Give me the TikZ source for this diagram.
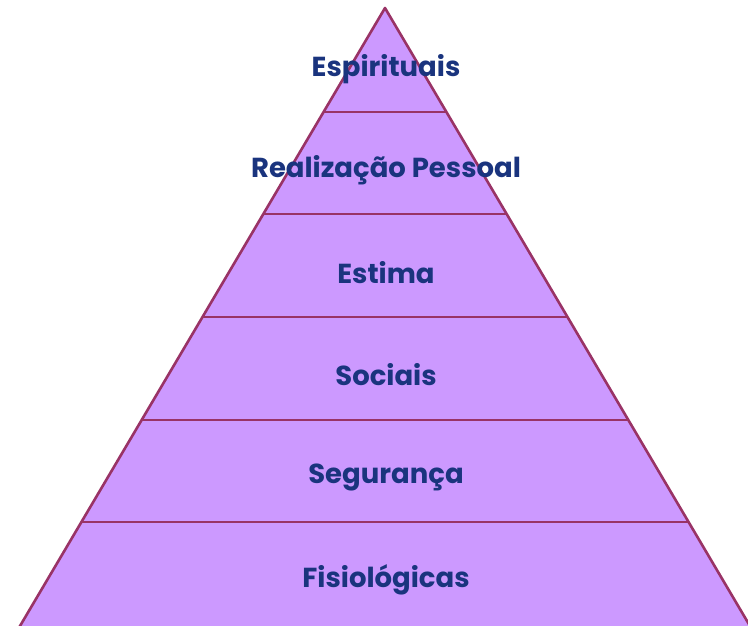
\documentclass[tikz,border=0pt]{standalone}
\usepackage{fontspec}
\setmainfont{Poppins}
\usetikzlibrary{calc}
\definecolor{layerfill}{HTML}{CC99FF}
\definecolor{layerline}{HTML}{993366}
\definecolor{labeltext}{HTML}{1A347E}
\begin{document}
\begin{tikzpicture}[
    x=1pt,
    y=-1pt,
    edge/.style={draw=layerline, line width=2.6pt, line join=round},
    lbl/.style={text=labeltext, font=\fontsize{27.5}{30}\selectfont\bfseries, anchor=center},
]
    \useasboundingbox (0, 0) rectangle (748, 626);
    \coordinate (apex) at (385, 8);
    \coordinate (bl) at (20, 626);
    \coordinate (br) at (750, 626);

    \fill[layerfill] (apex) -- ($(apex)!1.01!(bl)$) -- ($(apex)!1.01!(br)$) -- cycle;
    \path[edge] ($(apex)!1.01!(bl)$) -- (apex) -- ($(apex)!1.01!(br)$);

    \coordinate (l1) at ($(apex)!0.1683!(bl)$);
    \coordinate (r1) at ($(apex)!0.1683!(br)$);
    \coordinate (l2) at ($(apex)!0.3333!(bl)$);
    \coordinate (r2) at ($(apex)!0.3333!(br)$);
    \coordinate (l3) at ($(apex)!0.5000!(bl)$);
    \coordinate (r3) at ($(apex)!0.5000!(br)$);
    \coordinate (l4) at ($(apex)!0.6667!(bl)$);
    \coordinate (r4) at ($(apex)!0.6667!(br)$);
    \coordinate (l5) at ($(apex)!0.8317!(bl)$);
    \coordinate (r5) at ($(apex)!0.8317!(br)$);

    \path[edge] (l1) -- (r1);
    \path[edge] (l2) -- (r2);
    \path[edge] (l3) -- (r3);
    \path[edge] (l4) -- (r4);
    \path[edge] (l5) -- (r5);

    \node[lbl] (espirituais) at (386, 69) {Espirituais};
    \node[lbl] (realizacao) at (386, 170) {Realização Pessoal};
    \node[lbl] (estima) at (386, 273) {Estima};
    \node[lbl] (sociais) at (386, 375) {Sociais};
    \node[lbl] (seguranca) at (386, 477) {Segurança};
    \node[lbl] (fisiologicas) at (386, 580) {Fisiológicas};
\end{tikzpicture}
\end{document}
